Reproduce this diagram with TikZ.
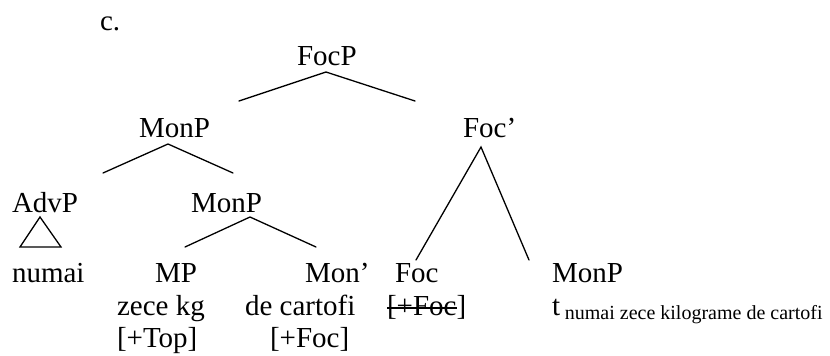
\documentclass[tikz,border=0pt]{standalone}
\usepackage{fontspec}
\setmainfont{Liberation Serif}
\begin{document}
\begin{tikzpicture}[x=0.5pt,y=0.5pt,
  lbl/.style={anchor=base west,inner sep=0pt,outer sep=0pt,font=\fontsize{14.5}{17}\selectfont},
  edge/.style={line width=0.65pt,line cap=round},
  strike/.style={line width=0.7pt}]
\useasboundingbox (0,0) rectangle (830,355);
% labels
\node[lbl] (c) at (100,325) {c.};
\node[lbl] (focp) at (297,290) {FocP};
\node[lbl] (monp1) at (139,218) {MonP};
\node[lbl] (focbar) at (463,218) {Foc’};
\node[lbl] (advp) at (12,143) {AdvP};
\node[lbl] (monp2) at (191,143) {MonP};
\node[lbl] (numai) at (12,73) {numai};
\node[lbl] (mp) at (155,73) {MP};
\node[lbl] (monbar) at (305,73) {Mon’};
\node[lbl] (foc) at (395,73) {Foc};
\node[lbl] (monp3) at (552,73) {MonP};
\node[lbl] (zece) at (117,40) {zece kg};
\node[lbl] (decart) at (245,40) {de cartofi};
\node[lbl] (strk) at (387,40) {[+Foc};
\node[lbl] (brk) at (strk.base east) {]};
\node[lbl] (trace) at (552,40) {t\,\raisebox{-2pt}{\fontsize{10}{12}\selectfont numai zece kilograme de cartofi}};
\node[lbl] (top) at (117,8) {[+Top]};
\node[lbl] (focf) at (270,8) {[+Foc]};
% connector end points
\coordinate (a1) at (326,283);
\coordinate (a1l) at (239,254);
\coordinate (a1r) at (415,254);
\coordinate (a2) at (168,211);
\coordinate (a2l) at (103,182);
\coordinate (a2r) at (233,182);
\coordinate (a3) at (481,208);
\coordinate (a3l) at (416,95);
\coordinate (a3r) at (529,95);
\coordinate (a4) at (250,138);
\coordinate (a4l) at (185,108);
\coordinate (a4r) at (316,108);
\coordinate (t1) at (40,138);
\coordinate (t2) at (20,108);
\coordinate (t3) at (61,108);
% connectors
\draw[edge] (a1l) -- (a1) -- (a1r);
\draw[edge] (a2l) -- (a2) -- (a2r);
\draw[edge] (a3l) -- (a3) -- (a3r);
\draw[edge] (a4l) -- (a4) -- (a4r);
\draw[edge,line join=miter] (t1) -- (t2) -- (t3) -- cycle;
% strike-through
\draw[strike] ([yshift=3.6pt]strk.base west) -- ([yshift=3.6pt]strk.base east);
\end{tikzpicture}
\end{document}
